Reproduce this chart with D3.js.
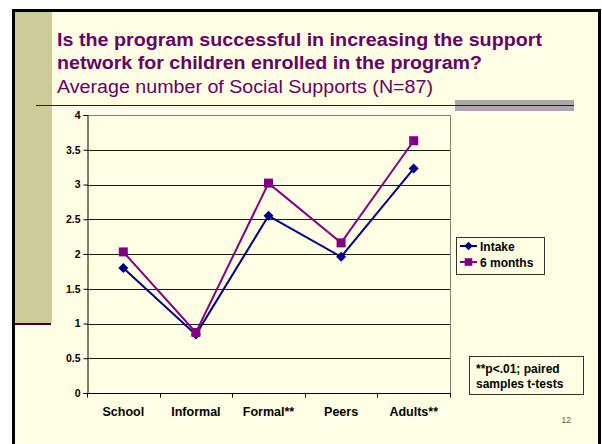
<!DOCTYPE html>
<html>
<head>
<meta charset="utf-8">
<script src="https://cdn.jsdelivr.net/npm/d3@7"></script>
<style>
  body { margin: 0; background: #ffffff; }
  text { font-family: Arial, "Liberation Sans", sans-serif; }
</style>
</head>
<body>
<div id="chart"></div>
<script>
// Data
const categories = ["School", "Informal", "Formal**", "Peers", "Adults**"];
const intakeValues = [1.80, 0.84, 2.55, 1.96, 3.23];
const sixMonthValues = [2.03, 0.87, 3.02, 2.16, 3.63];
const seriesNames = ["Intake", "6 months"];
const yTicks = [0, 0.5, 1, 1.5, 2, 2.5, 3, 3.5, 4];
const titleLines = ["Is the program successful in increasing the support",
                    "network for children enrolled in the program?"];
const subtitle = "Average number of Social Supports (N=87)";
const noteLines = ["**p<.01; paired", "samples t-tests"];
const pageNumber = "12";

const W = 602, H = 444;
const plot = {left: 87, right: 450, top: 115, bottom: 393};
const purple = "#660066", navy = "#000080", magenta = "#800080";
const titleWidths = [485, 425];  // the slide text is drawn a bit wider than Arial

const svg = d3.select("#chart").append("svg")
    .attr("width", W)
    .attr("height", H);

// Slide background, frame and decoration
svg.append("rect").attr("x", 13).attr("y", 10).attr("width", 587).attr("height", H)
   .attr("fill", "#ffffe3");
svg.append("rect").attr("x", 15).attr("y", 12).attr("width", 37).attr("height", 311)
   .attr("fill", "#cccc99");
svg.append("line").attr("x1", 13).attr("x2", 51).attr("y1", 324).attr("y2", 324)
   .attr("stroke", "#3f0040").attr("stroke-width", 2);
svg.append("path")
   .attr("d", `M13.5,${H} V10.5 H599.5 V${H}`)
   .attr("fill", "none").attr("stroke", "#000").attr("stroke-width", 3);

svg.append("rect").attr("x", 455).attr("y", 100).attr("width", 119).attr("height", 11)
   .attr("fill", "#a9a9a9");
svg.append("line").attr("x1", 36).attr("x2", 574).attr("y1", 105.5).attr("y2", 105.5)
   .attr("stroke", "#4a0040").attr("stroke-width", 1.2);

// Title and subtitle
svg.append("g").selectAll("text")
   .data(titleLines)
   .enter()
   .append("text")
   .attr("x", 57)
   .attr("y", (d, i) => 46 + i * 23)
   .attr("fill", purple)
   .attr("font-weight", "bold")
   .attr("font-size", "18px")
   .attr("textLength", (d, i) => titleWidths[i])
   .attr("lengthAdjust", "spacingAndGlyphs")
   .text(d => d);
svg.append("text")
   .attr("x", 57).attr("y", 93)
   .attr("fill", purple)
   .attr("font-size", "17.5px")
   .attr("textLength", 376)
   .attr("lengthAdjust", "spacingAndGlyphs")
   .text(subtitle);

// Scales
const xScale = d3.scaleBand()
    .domain(categories)
    .range([plot.left, plot.right]);
const yScale = d3.scaleLinear()
    .domain([0, 4])
    .range([plot.bottom, plot.top]);

// Gridlines
svg.append("g")
   .selectAll("line")
   .data(yTicks.filter(d => d > 0 && d < 4))
   .enter()
   .append("line")
   .attr("x1", plot.left).attr("x2", plot.right)
   .attr("y1", d => Math.round(yScale(d)) + 0.5)
   .attr("y2", d => Math.round(yScale(d)) + 0.5)
   .attr("stroke", "#1a1a1a");

// Plot border (top and right in grey)
svg.append("path")
   .attr("d", `M${plot.left},${plot.top + 0.5} H${plot.right + 0.5} V${plot.bottom}`)
   .attr("fill", "none").attr("stroke", "#808080");

// Y axis
const yAxis = svg.append("g")
   .attr("transform", `translate(${plot.left + 0.5},0)`)
   .call(d3.axisLeft(yScale).tickValues(yTicks).tickSize(4).tickPadding(3)
          .tickFormat(d => d));
yAxis.selectAll("text").attr("font-size", "10.5px").attr("font-weight", "bold").attr("fill", "#000")
     .attr("font-family", "Arial, 'Liberation Sans', sans-serif");

// X axis with ticks at category boundaries
const xAxis = svg.append("g")
   .attr("transform", `translate(0,${plot.bottom + 0.5})`)
   .call(d3.axisBottom(xScale).tickSize(0).tickPadding(14));
xAxis.select(".domain").attr("d", `M${plot.left},0H${plot.right + 1}`);
xAxis.selectAll("text").attr("font-size", "12.5px").attr("font-weight", "bold").attr("fill", "#000")
     .attr("font-family", "Arial, 'Liberation Sans', sans-serif");
const boundaries = categories.map(c => xScale(c)).concat([plot.right]);
xAxis.selectAll(".bound")
     .data(boundaries)
     .enter()
     .append("line")
     .attr("class", "bound")
     .attr("x1", d => Math.round(d) + 0.5).attr("x2", d => Math.round(d) + 0.5)
     .attr("y1", 0).attr("y2", 4)
     .attr("stroke", "#000");

// Lines and markers
const cx = c => xScale(c) + xScale.bandwidth() / 2;
const lineGen = d3.line()
    .x((d, i) => cx(categories[i]))
    .y(d => yScale(d));

const series = [
    {name: seriesNames[0], values: intakeValues, color: navy, marker: "diamond"},
    {name: seriesNames[1], values: sixMonthValues, color: magenta, marker: "square"}
];

function markerPath(type) {
    return type === "diamond" ? "M0,-5L5,0L0,5L-5,0Z" : "M-4.5,-4.5H4.5V4.5H-4.5Z";
}

series.forEach(function (s) {
    svg.append("path")
       .datum(s.values)
       .attr("d", lineGen)
       .attr("fill", "none")
       .attr("stroke", s.color)
       .attr("stroke-width", 2);
    svg.append("g")
       .selectAll("path")
       .data(s.values)
       .enter()
       .append("path")
       .attr("d", markerPath(s.marker))
       .attr("transform", (d, i) => `translate(${cx(categories[i])},${yScale(d)})`)
       .attr("fill", s.color);
});

// Legend
const legend = svg.append("g").attr("transform", "translate(456,237)");
legend.append("rect").attr("x", 0.5).attr("y", 0.5).attr("width", 88).attr("height", 37)
      .attr("fill", "#ffffe3").attr("stroke", "#333");
series.forEach(function (s, i) {
    const ly = 9 + i * 16;
    legend.append("line").attr("x1", 4).attr("x2", 21).attr("y1", ly).attr("y2", ly)
          .attr("stroke", s.color).attr("stroke-width", 2);
    legend.append("path").attr("d", markerPath(s.marker))
          .attr("transform", `translate(12.5,${ly}) scale(0.85)`)
          .attr("fill", s.color);
    legend.append("text").attr("x", 24).attr("y", ly + 4.5)
          .attr("font-size", "12px").attr("font-weight", "bold")
          .text(s.name);
});

// Significance note
const note = svg.append("g").attr("transform", "translate(469,356)");
note.append("rect").attr("x", 0.5).attr("y", 0.5).attr("width", 114).attr("height", 38)
    .attr("fill", "#ffffe3").attr("stroke", "#333");
note.selectAll("text")
    .data(noteLines)
    .enter()
    .append("text")
    .attr("x", 7)
    .attr("y", (d, i) => 17 + i * 15)
    .attr("font-size", "12px").attr("font-weight", "bold")
    .text(d => d);

// Slide number
svg.append("text")
   .attr("x", 571).attr("y", 423)
   .attr("text-anchor", "end")
   .attr("font-size", "8.5px")
   .attr("fill", "#555")
   .text(pageNumber);
</script>
</body>
</html>
